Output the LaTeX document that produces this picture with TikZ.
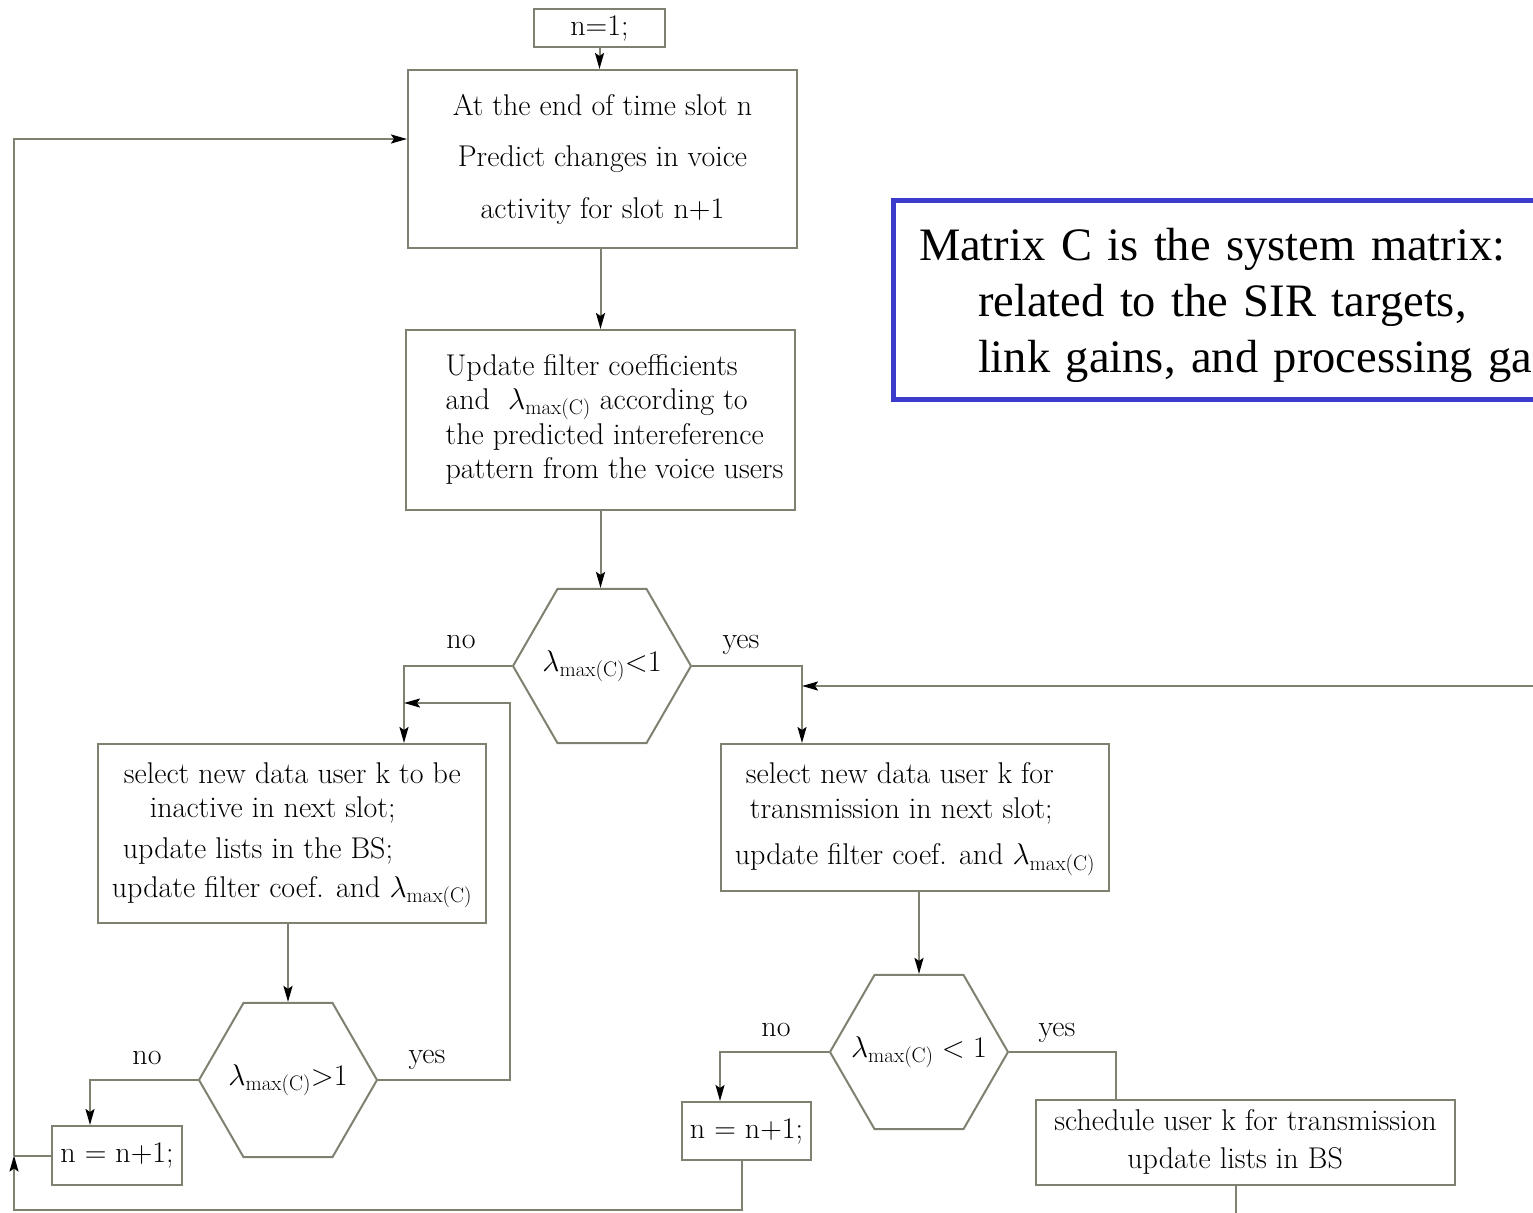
\RequirePackage{fix-cm}
\documentclass[tikz,border=0pt]{standalone}
\usepackage{fontspec}
\newfontfamily\notefont{Liberation Serif}
\usetikzlibrary{arrows.meta,shapes.geometric,calc}
\definecolor{flowline}{RGB}{128,128,112}
\definecolor{noteblue}{RGB}{60,60,204}
\newcommand\lmax{$\lambda_{\mathrm{max(C)}}$}

\begin{document}
\begin{tikzpicture}[x=1pt,y=-1pt,
  every node/.style={font=\fontsize{30}{34.5}\selectfont, text=black},
  box/.style={draw=flowline, line width=2pt, inner sep=0pt, align=left},
  hexa/.style={draw=flowline, line width=2pt, regular polygon, regular polygon sides=6,
               minimum size=178pt, inner sep=0pt},
  link/.style={draw=flowline, line width=2pt},
  arr/.style={link, -{Stealth[length=16pt,width=9pt,inset=3pt,color=black]}},
  lbl/.style={inner sep=0pt}
]
\useasboundingbox (0,0) rectangle (1533,1212);
\clip (0,0) rectangle (1533,1212);

% --- process boxes ---
\node[box, minimum width=131, minimum height=38] (start) at (599.5,28) {n=1;};
\node[box, minimum width=389, minimum height=178, align=center] (predict) at (602.5,159)
  {At the end of time slot n\\[17pt] Predict changes in voice\\[17pt] activity for slot n+1};
\node[box, minimum width=389, minimum height=180] (update) at (600.5,420)
  {\hspace*{28pt}\begin{tabular}{@{}l@{}}Update filter coefficients\\
   and \ \lmax{} according to\\ the predicted intereference\\ pattern from the voice users\end{tabular}};
\node[box, minimum width=388, minimum height=179] (inactive) at (292,833.5)
  {\begin{tabular}{@{}l@{}}\hspace*{12pt}select new data user k to be\\
   \hspace*{38pt}inactive in next slot;\\[6pt]
   \hspace*{11pt}update lists in the BS;\\[5pt]
   update filter coef. and \lmax\end{tabular}};
\node[box, minimum width=388, minimum height=147] (admit) at (915,817.5)
  {\begin{tabular}{@{}l@{}}\hspace*{11pt}select new data user k for\\
   \hspace*{15pt}transmission in next slot;\\[12pt]
   update filter coef. and \lmax\end{tabular}};
\node[box, minimum width=130, minimum height=59] (nextA) at (117,1155.5) {n = n+1;};
\node[box, minimum width=129, minimum height=58] (nextB) at (746.5,1131) {n = n+1;};
\node[box, minimum width=419, minimum height=85] (sched) at (1245.5,1142.5)
  {\begin{tabular}{@{}l@{}}schedule user k for transmission\\[4pt]
   \hspace*{73pt}update lists in BS\end{tabular}};

% --- decisions (labels kept out of the size computation) ---
\node[hexa] (test1) at (602,666) {\makebox[0pt]{$\lambda_{\mathrm{max(C)}}{<}1$}};
\node[hexa] (test2) at (288,1080) {\makebox[0pt]{$\lambda_{\mathrm{max(C)}}{>}1$}};
\node[hexa] (test3) at (919,1052) {\makebox[0pt]{$\lambda_{\mathrm{max(C)}} < 1$}};

% --- branch labels ---
\node[lbl] (no1) at (461,642) {no};
\node[lbl] (yes1) at (741,645) {yes};
\node[lbl] (no2) at (147,1058) {no};
\node[lbl] (yes2) at (427,1060) {yes};
\node[lbl] (no3) at (776,1030) {no};
\node[lbl] (yes3) at (1057,1033) {yes};

% --- routing points ---
\coordinate (noDrop1) at (404,665);
\coordinate (yesDrop1) at (802,665);
\coordinate (feedIn) at (1545,686);
\coordinate (loopBack) at (510,703);
\coordinate (noDrop2) at (90,1080);
\coordinate (outerLeft) at (14,139);
\coordinate (bottomRun) at (742,1210);
\coordinate (noDrop3) at (720,1052);
\coordinate (yesDrop3) at (1116,1052);
\coordinate (schedOut) at (1236,1225);

% --- connectors ---
\draw[arr] (start.south) -- (start.south |- predict.north);
\draw[arr] (update.north |- predict.south) -- (update.north);
\draw[arr] (update.south) -- (update.south |- test1.north);
\draw[arr] (test1.west) -| (noDrop1 |- inactive.north);
\draw[arr] (test1.east) -| (yesDrop1 |- admit.north);
\draw[arr] (feedIn) -- (yesDrop1 |- feedIn);
\draw[arr] (test2.north |- inactive.south) -- (test2.north);
\draw[arr] (test2.east) -| (loopBack) -- (noDrop1 |- loopBack);
\draw[arr] (test2.west) -| (noDrop2 |- nextA.north);
\draw[link] (nextA.west) -- (outerLeft |- nextA.west);
\draw[arr] (bottomRun |- nextB.south) -- (bottomRun) -| (outerLeft |- nextA.west);
\draw[arr] (outerLeft |- nextA.west) |- (predict.west |- outerLeft);
\draw[arr] (test3.north |- admit.south) -- (test3.north);
\draw[arr] (test3.west) -| (noDrop3 |- nextB.north);
\draw[link] (test3.east) -| (yesDrop3 |- sched.north);
\draw[link] (schedOut |- sched.south) -- (schedOut);

% --- note on the system matrix ---
\node[draw=noteblue, line width=5pt, anchor=north west, minimum height=199,
      inner xsep=25.5pt, inner ysep=0pt, text width=700, align=left,
      font=\notefont\fontsize{46.5}{56}\selectfont] (note) at (891,197.5)
  {\rule{0pt}{44pt}Matrix C is the system matrix:\\
   \hspace*{59pt}related to the SIR targets,\\
   \hspace*{59pt}link gains, and processing gains.};
\end{tikzpicture}
\end{document}
